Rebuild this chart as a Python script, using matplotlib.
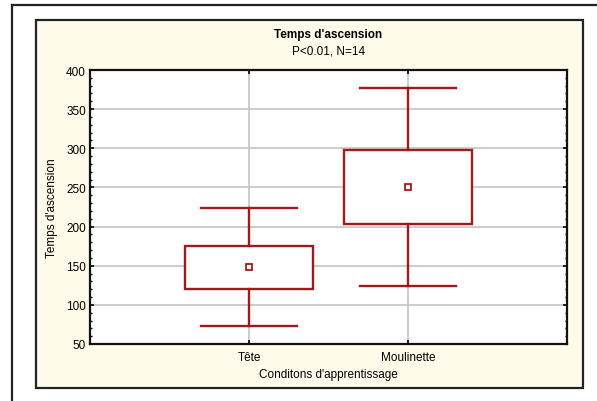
import matplotlib.pyplot as plt
from matplotlib.patches import Rectangle
from matplotlib.lines import Line2D
from matplotlib.ticker import MultipleLocator

plt.rcParams['font.family'] = ['Liberation Sans', 'DejaVu Sans']

# Data (Statistica-style mean / box / whisker plot)
categories = ['Tête', 'Moulinette']
means = [148, 250.5]
box_low = [120, 203]
box_high = [175, 297.5]
whisk_low = [73, 124]
whisk_high = [224, 377]

red = '#9e1b1b'
cream = '#fffbea'
fs = 8.5

fig = plt.figure(figsize=(5.97, 4.02), dpi=100)

# page border (partial frame) and cream panel
fig.add_artist(Line2D([12/597, 12/597], [0, 1 - 6/402], color='#222222', lw=1.6,
                      transform=fig.transFigure))
fig.add_artist(Line2D([12/597, 1], [1 - 6/402, 1 - 6/402], color='#222222', lw=1.6,
                      transform=fig.transFigure))
fig.add_artist(Rectangle((36/597, 1 - 389/402), 547/597, 368/402, transform=fig.transFigure,
                         facecolor=cream, edgecolor='#222222', lw=1.6, zorder=0))

ax = fig.add_axes([90/597, 1 - 345/402, 477/597, 274/402])
ax.set_facecolor('white')

x = [1, 2]
box_w = 0.8
cap_w = 0.6
for xi, m, bl, bh, wl, wh in zip(x, means, box_low, box_high, whisk_low, whisk_high):
    ax.add_patch(Rectangle((xi - box_w / 2, bl), box_w, bh - bl, facecolor='white',
                           edgecolor=red, lw=1.7, zorder=3))
    ax.plot([xi, xi], [bh, wh], color=red, lw=1.7, zorder=3)
    ax.plot([xi, xi], [wl, bl], color=red, lw=1.7, zorder=3)
    ax.plot([xi - cap_w / 2, xi + cap_w / 2], [wh, wh], color=red, lw=1.7, zorder=3)
    ax.plot([xi - cap_w / 2, xi + cap_w / 2], [wl, wl], color=red, lw=1.7, zorder=3)
ax.plot(x, means, 's', markersize=4.5, markerfacecolor='white', markeredgecolor=red,
        markeredgewidth=1.3, linestyle='none', zorder=4)

ax.set_xlim(0, 3)
ax.set_ylim(50, 400)
ax.set_xticks(x)
ax.set_xticklabels(categories, fontsize=fs)
ax.yaxis.set_major_locator(MultipleLocator(50))
ax.yaxis.set_minor_locator(MultipleLocator(10))
ax.tick_params(axis='y', labelsize=fs, direction='in', length=3, width=1.2,
               left=True, right=True, pad=3)
ax.tick_params(axis='y', which='minor', direction='in', length=1.5, width=1,
               left=True, right=True)
ax.tick_params(axis='x', direction='in', length=3, width=1.2, top=True, bottom=True, pad=5)

ax.grid(True, color='#c8c8c8', lw=1.3, zorder=0)
ax.set_axisbelow(True)
for s in ax.spines.values():
    s.set_linewidth(1.6)
    s.set_color('#111111')

ax.set_ylabel("Temps d'ascension", fontsize=fs, labelpad=5.5)
ax.set_xlabel("Conditons d'apprentissage", fontsize=fs, labelpad=4)

cx = (90 + 477 / 2) / 597
fig.text(cx, 1 - 35/402, "Temps d'ascension", ha='center', va='center', fontsize=fs,
         fontweight='bold')
fig.text(cx, 1 - 51/402, "P<0.01, N=14", ha='center', va='center', fontsize=fs)

fig.savefig('out.png', dpi=100)
